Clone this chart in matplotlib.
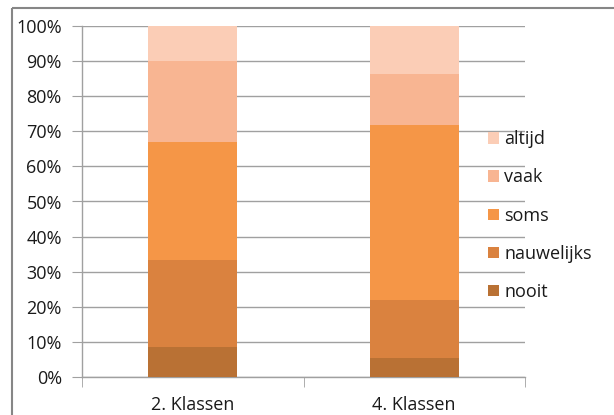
import matplotlib
matplotlib.use("Agg")
import matplotlib.pyplot as plt
from matplotlib.patches import Rectangle
from matplotlib.ticker import PercentFormatter

categories = ["2. Klassen", "4. Klassen"]
series = ["nooit", "nauwelijks", "soms", "vaak", "altijd"]
nooit = [8.6, 5.5]
nauwelijks = [24.8, 16.4]
soms = [33.6, 50.0]
vaak = [22.9, 14.5]
altijd = [10.1, 13.6]
colors = ["#B97134", "#DA823F", "#F59647", "#F8B592", "#FBCDB6"]
yticks = [0, 10, 20, 30, 40, 50, 60, 70, 80, 90, 100]

plt.rcParams["font.family"] = ["Open Sans", "DejaVu Sans"]
FS = 13

W, H = 614, 415
fig = plt.figure(figsize=(W / 100, H / 100), dpi=100)

# outer chart frame
fig.patches.append(Rectangle((12 / W, 1 - 8 / H), 1, -1, transform=fig.transFigure,
                             fill=False, edgecolor="#868686", linewidth=1.5))

ax = fig.add_axes([82 / W, (H - 377) / H, 443 / W, 351 / H])

values = [nooit, nauwelijks, soms, vaak, altijd]
x = list(range(len(categories)))
bottom = [0.0] * len(categories)
handles = []
for name, vals, col in zip(series, values, colors):
    b = ax.bar(x, vals, width=0.4, bottom=bottom, color=col, label=name, zorder=3)
    handles.append(b)
    bottom = [bo + v for bo, v in zip(bottom, vals)]

ax.set_xlim(-0.5, 1.5)
ax.set_ylim(0, 100)
ax.set_yticks(yticks)
ax.yaxis.set_major_formatter(PercentFormatter(decimals=0))
ax.set_xticks(x)
ax.set_xticklabels(categories)
ax.set_xticks([-0.5, 0.5, 1.5], minor=True)

ax.grid(axis="y", color="#A0A0A0", linewidth=1.0, zorder=0)
for s in ["top", "right"]:
    ax.spines[s].set_visible(False)
for s in ["left", "bottom"]:
    ax.spines[s].set_color("#A0A0A0")
    ax.spines[s].set_linewidth(1.0)

ax.tick_params(axis="y", length=7, color="#A0A0A0", labelsize=FS, pad=7.5, labelcolor="#1a1a1a")
ax.tick_params(axis="x", which="major", length=0, labelsize=FS, pad=14, labelcolor="#1a1a1a")
ax.tick_params(axis="x", which="minor", length=7, color="#A0A0A0")

leg = fig.legend(handles[::-1], series[::-1], loc="upper left",
                 bbox_to_anchor=(481 / W, 1 - 123 / H), frameon=False,
                 fontsize=FS, handlelength=0.6, handleheight=0.6,
                 handletextpad=0.28, labelspacing=1.12, borderaxespad=0)
for t in leg.get_texts():
    t.set_color("#1a1a1a")

fig.savefig("out.png", dpi=100)
